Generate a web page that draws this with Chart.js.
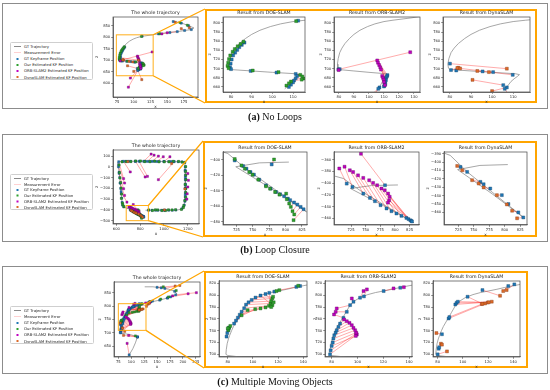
<!DOCTYPE html>
<html><head><meta charset="utf-8"><title>Trajectory comparison</title>
<script src="https://cdn.jsdelivr.net/npm/chart.js@4.4.1/dist/chart.umd.min.js"></script>
<style>
html,body{margin:0;padding:0;background:#fff;}
#page{position:relative;width:550px;height:390px;overflow:hidden;background:#fff;}
.frame{position:absolute;border:1.2px solid #8c8c8c;box-sizing:border-box;}
.obox{position:absolute;border:2px solid #ffa500;box-sizing:border-box;}
.cap{position:absolute;left:0;width:550px;text-align:center;font-family:"Liberation Serif","Times New Roman",serif;font-size:10px;line-height:12px;color:#111;}
.leg{position:absolute;border:0.8px solid #cfcfcf;border-radius:1.5px;background:#fff;box-sizing:border-box;overflow:hidden;}
.leg .in{position:absolute;left:0;top:0;transform:scale(0.5);transform-origin:0 0;font-family:"DejaVu Sans",sans-serif;font-size:7.6px;color:#222;}
.row{position:absolute;left:0;white-space:nowrap;display:flex;align-items:center;}
.sw{display:inline-block;width:14px;margin-left:6px;margin-right:6px;}
.ln{height:1.6px;}
.sq{width:4px;height:4px;margin-left:11px;margin-right:11px;}
canvas{position:absolute;}
</style></head>
<body><div id="page"></div>
<script>
// ================= DATA =================
const LEGEND_LABELS = ['GT Trajectory','Measurement Error','GT Keyframe Position','Our Estimated KF Position','ORB-SLAM2 Estimated KF Position','DynaSLAM Estimated KF Position'];
const TITLE_WHOLE = 'The whole trajectory';
const TITLE_DOE = 'Result from DOE-SLAM';
const TITLE_ORB = 'Result from ORB-SLAM2';
const TITLE_DYNA = 'Result from DynaSLAM';
const CAPTIONS = [['(a)',' No Loops'],['(b)',' Loop Closure'],['(c)',' Multiple Moving Objects']];

// ----- (a) No Loops -----
const A_traj = [[160,870],[172,862],[182,851],[190,841],[186,834],[176,830],[165,825],[152,821],[140,817],[128,811],[116,806],[110,803],[104,798],[99,792],[94,784],[90,775],[87,766],[84,755],[82,745],[80.5,735],[79.5,722],[79,710],[79.3,701],[80,698],[90,695],[100,692],[111,689],[113,687],[112,683],[110.5,678],[109,672],[108,666],[107,660],[106,656]];
const A_doeGT  = [[112.5,805],[86.5,757],[85.2,752],[84,747],[83,741],[82,735],[81,729],[80.3,720],[79.8,711],[79.5,703],[80,699],[89.5,695],[102,691.5],[111.3,688.5],[112,684],[111.3,679],[110.5,674],[110,670],[109,665],[108,660],[171,862],[182,851],[137,815]];
const A_doeEst = [[111.5,804],[86,759],[84.6,754],[83.2,749],[81.8,743],[80.8,737],[79.6,729],[79,721],[78.6,713],[78.3,706],[78.8,701],[90.5,696],[103,692.5],[113.5,686.5],[114.5,683],[115.5,678.5],[114.2,676],[109,672],[108,668],[106.8,663],[169,865],[180,853],[139,816]];
const A_orbGT  = [[79.6,698.5],[80.5,699],[112.3,686],[112,683.5],[111.5,681],[111,678],[111.3,675],[110.8,672],[110.5,669],[110.9,666],[110.3,663],[110,661],[154,821],[165,825],[107,659],[106.2,656]];
const A_orbEst = [[79.8,697],[127.5,736],[105.5,718],[106,713],[106.8,708],[107.5,703],[108,698],[108.8,684],[109.3,680],[109.8,676],[110,671],[110.6,664],[142,815],[150,820],[95,622],[92,582]];
const A_dynaGT  = [[80,711],[80.5,697],[83,696],[95.5,694],[100.5,692.5],[109.8,686.5],[105.3,664],[159,869],[186,834],[176,830],[107,659],[106,656]];
const A_dynaEst = [[107,700],[84,702],[84.8,700.5],[93,695],[98.5,692.5],[83.5,701.5],[90.7,675.5],[162,866],[183,842],[171,838],[100,651],[112,615]];
const A_zoomBox = {x0:74, x1:129, y0:632, y1:811};
const A_wholeXTicks = [75,100,125,150,175], A_wholeYTicks = [600,650,700,750,800,850];
const A_zoomYTicks = [660,680,700,720,740,760,780,800];
const A_doeXTicks = [80,90,100,110], A_orbXTicks = [80,90,100,110,120,130], A_dynaXTicks = [80,90,100,110];

// ----- (b) Loop Closure -----
const B_traj = [[805,-403],[760,-404],[724,-409],[780,-438],[832,-467],[780,-436],[740,-412],[712,-392],[690,-386],[668,-376],[652,-355],[645,-300],[638,-200],[628,-100],[618,0],[612,40],[620,50],[700,52],[800,52],[900,51],[1000,50],[1100,49],[1165,47],[1176,35],[1178,-50],[1180,-150],[1180,-250],[1176,-320],[1165,-368],[1145,-393],[1110,-401],[1000,-403],[900,-403],[845,-403]];
const B_doeGT = [[722.4,-400.9],[735.3,-408.1],[740.4,-411.5],[746.5,-415.8],[751.7,-419.2],[759.9,-425.6],[770.1,-432.9],[777.3,-437.2],[785.5,-441.5],[791.7,-444.4],[797.8,-447],[803.5,-450],[807,-452],[813,-455],[818,-457.7],[823,-460.7],[827.5,-463.7],[778.8,-406],
 [650,50],[720,52],[800,52],[880,51],[960,50],[1040,50],[1120,48],[1172,40],[1178,-40],[1180,-120],[1180,-200],[1179,-280],[1170,-355],[1150,-390],[1100,-401],[1040,-403],[980,-403],[930,-403],[870,-403],[623,-50],[633,-150],[641,-250],[648,-330],[662,-372],
 [680,52],[760,52],[840,52],[920,51],[1000,50],[1080,49],[1150,47],[1179,0],[1180,-80],[1180,-160],[1180,-240],[1178,-310],[1160,-375],[1070,-403],[1010,-403],[950,-403],[900,-403],[620,20],[628,-100],[637,-200],[645,-290],[652,-355]];
const B_doeEst = [[722.4,-399],[732.7,-407.3],[737.8,-411.5],[744.5,-415.8],[749.6,-419.2],[758.3,-425.6],[770.1,-434.2],[776.3,-437.2],[784,-441.5],[790.6,-444.9],[800.9,-443.6],[801.9,-450.9],[805.5,-456.4],[808,-460.7],[810.6,-466.2],[813.2,-470.5],[812.2,-477.8],[782.4,-399.6],
 [648,47],[722,49],[803,55],[882,48],[958,47],[1042,47],[1123,51],[1176,43],[1182,-43],[1184,-118],[1183,-203],[1182,-283],[1166,-360],[1146,-396],[1097,-398],[1037,-399],[983,-406],[927,-399],[873,-400],[627,-53],[637,-146],[645,-253],[652,-336],[664,-369],
 [682,49],[762,55],[838,49],[922,54],[1003,47],[1078,52],[1152,44],[1182,3],[1183,-77],[1177,-163],[1183,-237],[1175,-313],[1163,-378],[1067,-400],[1013,-406],[947,-400],[903,-406],[623,17],[631,-103],[640,-197],[642,-293],[655,-352]];
const B_orbGT = [[717.7,-400.7],[727.4,-406.3],[746,-417.6],[757.3,-425],[765.8,-430.6],[775.4,-437.4],[785.6,-443],[794,-447.6],[802.5,-451.5],[811,-455.5],[819.5,-459],[823,-461],[826.3,-463],[828,-464],[829,-465],[783,-403.5],
 [620,48],[618,0],[623,-60],[632,-150],[640,-230],[660,52],[760,52],[790,52],[830,52],[860,51],[900,51],[940,50],[1000,50],[1086,49],[1178,-30],[1180,-100],[1180,-170],[1179,-260],[1176,-320]];
const B_orbEst = [[705,-375],[714,-372],[723,-378],[728.6,-381],[737,-386.6],[745.9,-391],[756,-395],[762.7,-399.5],[769.6,-403.5],[777,-409],[782.6,-412],[788.3,-417.6],[791,-423],[790,-429],[788,-433],[742,-350],
 [661,-109],[669,-150],[661,-203],[669,-266],[689,-328],[717,-47],[842,-94],[861,-88],[892,119],[917,109],[953,100],[994,94],[1050,94],[953,-119],[1200,-62],[1205,-125],[1200,-187],[1195,-250],[1192,-300]];
const B_dynaGT  = [[728.7,-405.8],[739.4,-411.7],[760.8,-423.6],[766,-426.4],[776.7,-431.5],[795.4,-439.4],[806,-450],[822,-460],[830,-466],[1060,50],[700,52],[1000,-403],[1178,-200]];
const B_dynaEst = [[723.3,-404.6],[731.4,-409.8],[747.4,-421.6],[758,-425.6],[766,-430.3],[787.4,-439.4],[803.5,-450.5],[812,-458],[820,-467],[1064,31],[697,49],[1004,-400],[1176,-205]];
const B_zoomBox = {x0:683, x1:869, y0:-500, y1:-359};
const B_wholeXTicks = [600,800,1000,1200], B_wholeYTicks = [-500,-400,-300,-200,-100,0,100];
const B_zoomXTicks = [725,750,775,800,825];
const B_doeYTicks = [-480,-460,-440,-420,-400];
const B_orbYTicks = [-460,-440,-420,-400,-380,-360];
const B_dynaYTicks = [-460,-450,-440,-430,-420,-410,-400,-390];

// ----- (c) Multiple Moving Objects -----
const C_traj = [[96,617],[103,640],[108,662],[112,684],[100,692],[88,696],[80,698],[78.5,700],[78.8,708],[79.5,718],[80.5,726],[81.5,732],[83,740],[84.5,747],[87.5,758],[91,771],[94.5,784],[97.5,790],[102,796],[108,801],[114,804.5],[120,807],[127,810],[133,813],[140,816],[155,822],[170,830],[182,838],[188,846],[184,855],[172,863],[158,868],[142,872],[126,872]];
const C_doeGT  = [[79,730],[79.6,736],[80.3,741],[81,745],[85,752],[86.5,757],[88,762],[89.5,767],[91,772],[93,778],[94.5,784],[96.5,788],[99,792],[102,796],[106,799.5],[110,802],[113,804],[117,806],[134.5,814],[137.5,815.5],[155,822],[170,830],[184,855],[158,868],[112,684]];
const C_doeEst = [[80.5,741],[81,745],[82,748],[80,744],[91,766],[95.8,774.7],[101.8,776.4],[106,777.6],[110,779.3],[112.7,782],[114,786],[114.5,790],[115.4,794.5],[116,797.4],[115.5,783],[116.5,788],[114.5,780],[118.7,807],[121,808.5],[136,816],[157,826],[172,834],[187,858],[162,872],[108,688]];
const C_orbGT  = [[78.7,700],[79.2,706.8],[80,714.2],[80.8,720],[81.3,726.6],[82,732.3],[83.1,736.8],[83.9,740.8],[85.2,746.4],[86.5,752],[89.1,761.7],[91.7,771.9],[94.3,783.2],[96.9,788.9],[102,795.7],[105,798],[120.3,807],[133.2,812.6],[176,834],[186,842],[170,830],[112,684],[96,617]];
const C_orbEst = [[99.5,733.4],[99,735],[98.7,731.1],[99,736.8],[98.2,740.8],[96.9,744.7],[95.6,749.3],[93.8,753.2],[91.7,756],[89.6,758.9],[81.8,767.4],[83.1,771.9],[83.9,777.6],[95.6,794.5],[104.7,807],[107.3,809.8],[128,811.5],[136,813.5],[210,846],[226,850],[180,838],[95,690],[92,660]];
const C_dynaGT  = [[80,700],[80.8,709.5],[81.2,712],[83.4,734],[88.7,760.6],[89.3,763],[94,784.3],[95,787],[96,789],[103.7,797.4],[115.5,808.7],[136,815.5],[140.8,818.3],[165,866],[150,870],[112,684]];
const C_dynaEst = [[87.4,705],[82.6,718],[83.4,716.4],[79,736],[117.6,786],[115,785],[122.9,789],[119.7,787.7],[120.5,788],[115.5,785.5],[129.5,799],[132,807],[134.7,808.7],[194,877],[185,875],[85,690]];
const C_zoomBox = {x0:75, x1:128.5, y0:708.75, y1:808.75};
const C_wholeXTicks = [75,100,125,150,175,200,225], C_wholeYTicks = [650,700,750,800,850];
const C_zoomXTicks = [80,100,120,140], C_zoomYTicks = [700,720,740,760,780,800,820];

// ================= STYLE / LAYOUT =================
const FONT = "'DejaVu Sans', sans-serif";
const COL = {traj:'#8a8a8a', err:'rgba(255,35,35,0.42)', gt:'#1f77b4', doe:'#2ca02c', orb:'#c000c0', dyna:'#dd6a28'};
const EDGE = {gt:'#0f3d66', doe:'#145214', orb:'#5a005a', dyna:'#7a3010'};
const page = document.getElementById('page');

function xy(arr){ return arr.map(p => p ? {x:p[0], y:p[1]} : {x:null, y:null}); }
function errLines(list){ const out=[]; list.forEach(([g,e])=>{ for(let i=0;i<g.length;i++){ out.push({x:g[i][0],y:g[i][1]},{x:e[i][0],y:e[i][1]},{x:null,y:null}); } }); return out; }
function fmt(v){ return v < 0 ? '\u2212' + Math.abs(v) : String(v); }

function div(cls, l, t, w, h){ const d=document.createElement('div'); d.className=cls; Object.assign(d.style,{left:l+'px',top:t+'px',width:w+'px',height:h+'px'}); page.appendChild(d); return d; }

// frames and orange boxes
div('frame', 2, 3, 546, 106);
div('frame', 2, 134, 546, 108);
div('frame', 2, 266, 546, 108);
const BIG = [{l:205,t:9,r:537,b:103},{l:203,t:141,r:537,b:237},{l:204,t:271,r:528,b:368}];
BIG.forEach(b => div('obox', b.l, b.t, b.r-b.l, b.b-b.t));

const framePlugin = { id:'axframe', afterDatasetsDraw(chart){ const a=chart.chartArea, c=chart.ctx; c.save(); c.strokeStyle='#444'; c.lineWidth=0.7; c.strokeRect(a.left, a.top, a.right-a.left, a.bottom-a.top); c.restore(); } };
const zoomBoxPlugin = { id:'zoomBox', afterDatasetsDraw(chart, args, opts){ if(!opts || !opts.box) return; const b=opts.box, sx=chart.scales.x, sy=chart.scales.y, c=chart.ctx;
  const x0=sx.getPixelForValue(b.x0), x1=sx.getPixelForValue(b.x1), y0=sy.getPixelForValue(b.y0), y1=sy.getPixelForValue(b.y1);
  c.save(); c.strokeStyle='rgba(255,165,0,0.9)'; c.lineWidth=1; c.strokeRect(x0, y1, x1-x0, y0-y1); c.restore(); } };
Chart.register(framePlugin, zoomBoxPlugin);

function pts(label, arr, color, edge, r, order){ return {label, data: xy(arr), showLine:false, pointStyle:'rect', pointRadius:r, backgroundColor:color, borderColor:edge, borderWidth:0.35, order, clip:0}; }

function makeChart(spec){
  const TS = 4.7, TPB = 1.6, TH = TS*1.2 + TPB, XH = 12, PR = 6;
  const [L,T,R,B] = spec.box;
  const cl = L - spec.yw, ct = Math.floor(T - TH - 1);
  const W = Math.round(spec.yw + (R-L) + PR), H = Math.round(B - ct + XH);
  const cv = document.createElement('canvas'); cv.width=W; cv.height=H;
  Object.assign(cv.style,{left:cl+'px',top:ct+'px',width:W+'px',height:H+'px'});
  page.appendChild(cv);
  const r = spec.whole ? 1.5 : 2.1;
  const ds = [
    {label:LEGEND_LABELS[0], data: xy(spec.traj), showLine:true, borderColor:COL.traj, borderWidth:0.75, pointRadius:0, order:10, clip:0},
    {label:LEGEND_LABELS[1], data: errLines(spec.pairs), showLine:true, borderColor:COL.err, borderWidth:0.9, pointRadius:0, order:9, clip:0},
    pts(LEGEND_LABELS[2], spec.gt, COL.gt, EDGE.gt, r, 8)
  ];
  spec.est.forEach((e,i) => ds.push(pts(e.label, e.data, COL[e.key], EDGE[e.key], r, 7-i)));
  const axis = (rng, ticks, title, isY) => ({
    type:'linear', min:rng[0], max:rng[1],
    afterBuildTicks: s => { s.ticks = ticks.map(v => ({value:v})); },
    afterFit: s => { if(isY) s.width = spec.yw; else s.height = XH; },
    ticks:{font:{family:FONT,size:3.7}, color:'#222', padding:1, maxRotation:0, autoSkip:false, callback:fmt},
    grid:{display:true, drawOnChartArea:false, drawTicks:true, tickLength:1.8, color:'#444', lineWidth:0.6},
    border:{display:true, color:'#444', width:0.7},
    title:{display:true, text:title, font:{family:FONT,size:4.2}, color:'#222', padding:{top:0,bottom:0}}
  });
  const chart = new Chart(cv, {
    type:'scatter',
    data:{datasets: ds},
    options:{
      responsive:false, animation:false, events:[], devicePixelRatio:1,
      layout:{padding:{top:T - TH - ct, right:PR, left:0, bottom:0}},
      plugins:{legend:{display:false}, tooltip:{enabled:false},
        title:{display:true, fullSize:false, text:spec.title, font:{family:FONT,size:TS,weight:'normal'}, color:'#1a1a1a', padding:{top:0,bottom:TPB}},
        zoomBox: spec.zoomBox ? {box: spec.zoomBox} : false},
      scales:{ x: axis(spec.xr, spec.xt, 'x', false), y: axis(spec.yr, spec.yt, 'z', true) }
    }
  });
  return {chart, cl, ct};
}

const EST = {doe:LEGEND_LABELS[3], orb:LEGEND_LABELS[4], dyna:LEGEND_LABELS[5]};
const EXP = [
  {traj:A_traj, doe:[A_doeGT,A_doeEst], orb:[A_orbGT,A_orbEst], dyna:[A_dynaGT,A_dynaEst], zoomBox:A_zoomBox,
   whole:{box:[113,17,198,97], yw:19, xr:[69,196], yr:[539,889], xt:A_wholeXTicks, yt:A_wholeYTicks},
   zooms:[{key:'doe', box:[223,17,305,92], yw:16, xr:[76.1,115.8], yr:[649,813], xt:A_doeXTicks, yt:A_zoomYTicks},
          {key:'orb', box:[334,17,420,92], yw:16, xr:[76.7,134], yr:[649,813], xt:A_orbXTicks, yt:A_zoomYTicks},
          {key:'dyna', box:[443,17,530,92], yw:16, xr:[76.7,118], yr:[649,813], xt:A_dynaXTicks, yt:A_zoomYTicks}]},
  {traj:B_traj, doe:[B_doeGT,B_doeEst], orb:[B_orbGT,B_orbEst], dyna:[B_dynaGT,B_dynaEst], zoomBox:B_zoomBox,
   whole:{box:[113,150,199,224], yw:19, xr:[572,1294], yr:[-531,157], xt:B_wholeXTicks, yt:B_wholeYTicks},
   zooms:[{key:'doe', box:[223,152,307,225], yw:20, xr:[704.5,832.7], yr:[-484,-390], xt:B_zoomXTicks, yt:B_doeYTicks},
          {key:'orb', box:[334,152,419,225], yw:18, xr:[696,841], yr:[-471,-347], xt:B_zoomXTicks, yt:B_orbYTicks},
          {key:'dyna', box:[444,152,527,225], yw:19, xr:[702,836], yr:[-475,-388], xt:B_zoomXTicks, yt:B_dynaYTicks}]},
  {traj:C_traj, doe:[C_doeGT,C_doeEst], orb:[C_orbGT,C_orbEst], dyna:[C_dynaGT,C_dynaEst], zoomBox:C_zoomBox,
   whole:{box:[114,282,200,357], yw:17, xr:[66.6,233], yr:[609,890], xt:C_wholeXTicks, yt:C_wholeYTicks},
   zooms:[{key:'doe', box:[219,281,307,357], yw:15, xr:[73,143], yr:[695.5,824], xt:C_zoomXTicks, yt:C_zoomYTicks},
          {key:'orb', box:[325,281,412,357], yw:13, xr:[74.8,142.3], yr:[695.5,824], xt:C_zoomXTicks, yt:C_zoomYTicks},
          {key:'dyna', box:[433,281,520,357], yw:16, xr:[76.3,145.3], yr:[695.5,824], xt:C_zoomXTicks, yt:C_zoomYTicks}]}
];
const TITLES = {doe:TITLE_DOE, orb:TITLE_ORB, dyna:TITLE_DYNA};

const wholes = [];
EXP.forEach((e, k) => {
  const w = makeChart(Object.assign({}, e.whole, {whole:true, title:TITLE_WHOLE, traj:e.traj,
    pairs:[e.doe, e.orb, e.dyna], gt:[].concat(e.doe[0], e.orb[0], e.dyna[0]),
    est:[{key:'doe',label:EST.doe,data:e.doe[1]},{key:'orb',label:EST.orb,data:e.orb[1]},{key:'dyna',label:EST.dyna,data:e.dyna[1]}],
    zoomBox:e.zoomBox}));
  wholes.push({w, zb:e.zoomBox, big:BIG[k]});
  e.zooms.forEach(z => {
    makeChart(Object.assign({}, z, {whole:false, title:TITLES[z.key], traj:e.traj, pairs:[e[z.key]], gt:e[z.key][0],
      est:[{key:z.key, label:EST[z.key], data:e[z.key][1]}]}));
  });
});

// connectors from small zoom box to the enlarged panel
const ov = document.createElement('canvas'); ov.width=550; ov.height=390;
Object.assign(ov.style,{left:'0px',top:'0px',width:'550px',height:'390px',pointerEvents:'none'});
page.appendChild(ov);
const octx = ov.getContext('2d');
octx.strokeStyle='#ffa500'; octx.lineWidth=1.2;
wholes.forEach(({w, zb, big}) => {
  const sx=w.chart.scales.x, sy=w.chart.scales.y;
  const xr = w.cl + sx.getPixelForValue(zb.x1), yt = w.ct + sy.getPixelForValue(zb.y1), yb = w.ct + sy.getPixelForValue(zb.y0);
  octx.beginPath(); octx.moveTo(xr, yt); octx.lineTo(big.l, big.t); octx.moveTo(xr, yb); octx.lineTo(big.l, big.b); octx.stroke();
});

// legends (HTML)
function legend(l, t, w, h){
  const d = div('leg', l, t, w, h);
  const inn = document.createElement('div'); inn.className='in'; inn.style.width=(2*w)+'px'; inn.style.height=(2*h)+'px'; d.appendChild(inn);
  const rh = (h-1.5)/6;
  const kinds = [['ln',COL.traj],['ln','rgba(255,90,90,0.55)'],['sq',COL.gt],['sq',COL.doe],['sq',COL.orb],['sq',COL.dyna]];
  LEGEND_LABELS.forEach((lab,i) => {
    const r = document.createElement('div'); r.className='row';
    r.style.top = (2*(0.6+rh*i))+'px'; r.style.height=(2*rh)+'px';
    const s = document.createElement('span'); s.className='sw '+kinds[i][0]; s.style.background=kinds[i][1];
    const tx = document.createElement('span'); tx.textContent = lab;
    r.appendChild(s); r.appendChild(tx); inn.appendChild(r);
  });
}
legend(10, 42, 83, 38);
legend(10, 174, 83, 36);
legend(10, 306, 84, 38);

// captions
[117, 250, 382].forEach((y, i) => {
  const c = document.createElement('div'); c.className='cap'; c.style.top=(y-6)+'px';
  const b = document.createElement('b'); b.textContent = CAPTIONS[i][0];
  c.appendChild(b); c.appendChild(document.createTextNode(CAPTIONS[i][1]));
  page.appendChild(c);
});
</script>
</body></html>
